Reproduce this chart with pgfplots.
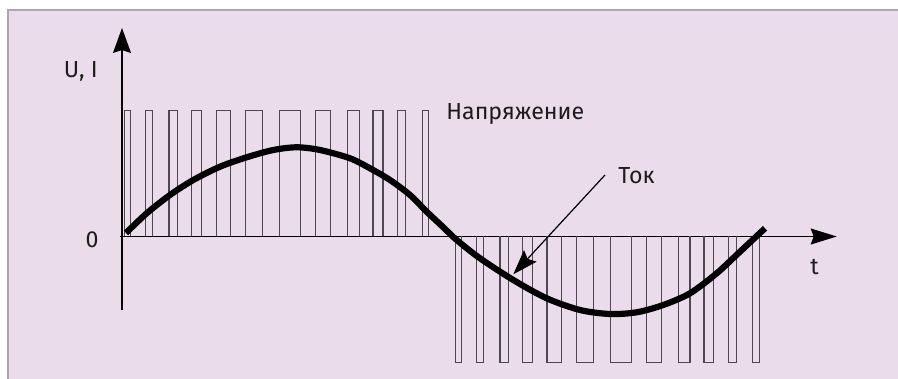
\documentclass[border=0pt]{standalone}
\usepackage{fontspec}
\setmainfont{Fira Sans}
\usepackage{pgfplots}
\pgfplotsset{compat=1.18}
\usetikzlibrary{arrows.meta,backgrounds}

\definecolor{bgpink}{RGB}{234,220,235}
\definecolor{framegray}{RGB}{168,168,168}
\definecolor{pulsegray}{RGB}{78,70,80}
\definecolor{txt}{RGB}{28,28,28}

\tikzset{lbl/.style={font=\fontsize{11.6}{14}\selectfont, text=txt, inner sep=0pt}}

\begin{document}
\begin{tikzpicture}
\begin{axis}[
    x=0.5pt, y=0.5pt,
    xmin=-1.5, xmax=714.7,
    ymin=-74, ymax=208.5,
    enlargelimits=false,
    axis lines=middle,
    axis line style={black, line width=0.7pt},
    x axis line style={-{Stealth[length=13pt,width=8pt,inset=1.5pt]}},
    y axis line style={-{Stealth[length=12.5pt,width=9pt,inset=1.5pt]}},
    xtick=\empty, ytick=\empty,
    clip=false,
    unbounded coords=jump,
]
% voltage pulses (PWM)
\addplot[pulsegray, line width=0.55pt] coordinates {
 (2.3,0)(2.3,126.2)(8.7,126.2)(8.7,0)(8.7,nan)
 (23.3,0)(23.3,126.2)(30.3,126.2)(30.3,0)(30.3,nan)
 (47,0)(47,126.2)(55.7,126.2)(55.7,0)(55.7,nan)
 (69.3,0)(69.3,126.2)(79.7,126.2)(79.7,0)(79.7,nan)
 (94.3,0)(94.3,126.2)(108.7,126.2)(108.7,0)(108.7,nan)
 (123.7,0)(123.7,126.2)(140.3,126.2)(140.3,0)(140.3,nan)
 (157.3,0)(157.3,126.2)(178.7,126.2)(178.7,0)(178.7,nan)
 (193.7,0)(193.7,126.2)(208.7,126.2)(208.7,0)(208.7,nan)
 (225.3,0)(225.3,126.2)(237.3,126.2)(237.3,0)(237.3,nan)
 (251,0)(251,126.2)(261,126.2)(261,0)(261,nan)
 (275.3,0)(275.3,126.2)(283.7,126.2)(283.7,0)(283.7,nan)
 (300.3,0)(300.3,126.2)(306.3,126.2)(306.3,0)(306.3,nan)
 (333.3,0)(333.3,-126.2)(339.3,-126.2)(339.3,0)(339.3,nan)
 (354.7,0)(354.7,-126.2)(361.3,-126.2)(361.3,0)(361.3,nan)
 (378,0)(378,-126.2)(386.3,-126.2)(386.3,0)(386.3,nan)
 (400.7,0)(400.7,-126.2)(410.7,-126.2)(410.7,0)(410.7,nan)
 (425,0)(425,-126.2)(439.3,-126.2)(439.3,0)(439.3,nan)
 (454.7,0)(454.7,-126.2)(471.3,-126.2)(471.3,0)(471.3,nan)
 (488.3,0)(488.3,-126.2)(509.3,-126.2)(509.3,0)(509.3,nan)
 (524.7,0)(524.7,-126.2)(539.7,-126.2)(539.7,0)(539.7,nan)
 (556.7,0)(556.7,-126.2)(568,-126.2)(568,0)(568,nan)
 (582,0)(582,-126.2)(591.3,-126.2)(591.3,0)(591.3,nan)
 (606.3,0)(606.3,-126.2)(614.7,-126.2)(614.7,0)(614.7,nan)
 (630.5,0)(630.5,-126.2)(637.7,-126.2)(637.7,0)
};
% current
\addplot[black, line width=3.1pt, line cap=butt, smooth] coordinates {
 (4,3.5)(24.7,23.2)(48,41.5)(71.3,56.5)(98,69.8)(124.7,79.2)(151.3,86.5)
 (174.7,89.2)(198,86.5)(228,78.2)(248,68.2)(268,56.5)(288,41.5)
 (304.7,24.8)(321.3,9.2)(334.7,-3.5)(358,-21.8)(391.3,-43.5)(424.7,-61.8)
 (458,-73.5)(488,-77.5)(514.7,-75.8)(541.3,-68.5)(568,-56.8)(594.7,-36.8)
 (618,-15.2)(643,8.2)
};
\draw[black, line width=0.6pt, -{Stealth[length=12.5pt,width=8.5pt,inset=2pt]}]
  (axis cs:483,61.5) -- (axis cs:391.3,-37.8);

\node[lbl, anchor=base east] at (axis cs:-24,158.5) {U, I};
\node[lbl, anchor=base east] at (axis cs:-23,-11.5) {0};
\node[lbl, anchor=base west] at (axis cs:324,117.2) {Напряжение};
\node[lbl, anchor=base west] at (axis cs:496,52.5) {Ток};
\node[lbl, anchor=base west] at (axis cs:688,-38.5) {t};

\coordinate (pic-bl) at (axis cs:-122,-142.5);
\coordinate (pic-tr) at (axis cs:776,236.5);
\coordinate (frame-tl) at (axis cs:-114,226.5);
\coordinate (frame-bl) at (axis cs:-114,-142.5);
\coordinate (frame-tr) at (axis cs:776,226.5);
\end{axis}
\begin{pgfonlayer}{background}
\fill[white] (pic-bl) rectangle (pic-tr);
\fill[bgpink] (frame-bl) rectangle (frame-tr);
\draw[framegray, line width=1pt] (frame-bl) -- (frame-tl) -- (frame-tr);
\end{pgfonlayer}
\pgfresetboundingbox
\useasboundingbox (pic-bl) rectangle (pic-tr);
\end{tikzpicture}
\end{document}
